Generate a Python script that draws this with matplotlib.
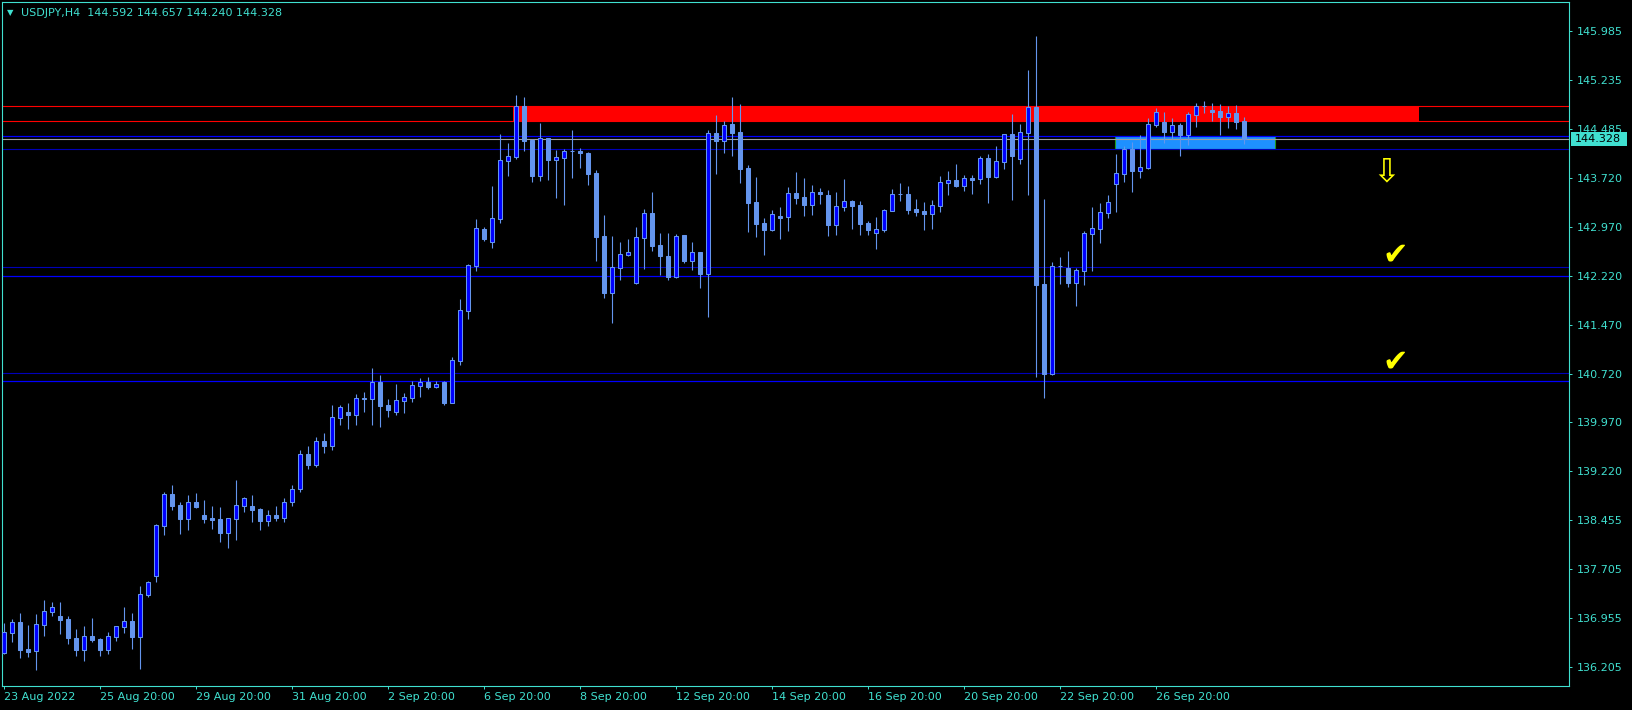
import numpy as np
import matplotlib.pyplot as plt
from matplotlib.patches import Rectangle
from matplotlib.transforms import blended_transform_factory

# USDJPY H4 bars (bar 0 = 23 Aug 2022 20:00)
opens = [136.429, 136.737, 136.897, 136.486, 136.460, 136.860, 137.059, 136.989, 136.947, 136.651,
         136.476, 136.681, 136.640, 136.476, 136.675, 136.829, 136.917, 136.675, 137.321, 137.613,
         138.381, 138.863, 138.699, 138.488, 138.740, 138.545, 138.499, 138.484, 138.273, 138.488,
         138.688, 138.679, 138.637, 138.460, 138.550, 138.500, 138.740, 138.950, 139.480, 139.320,
         139.680, 139.600, 140.040, 140.127, 140.086, 140.338, 140.332, 140.588, 140.235, 140.132,
         140.301, 140.347, 140.532, 140.588, 140.516, 140.588, 140.270, 140.916, 141.684, 142.375,
         142.939, 142.744, 143.097, 143.988, 144.050, 144.829, 144.306, 143.753, 144.332, 144.004,
         144.034, 144.137, 144.137, 144.106, 143.799, 142.831, 141.960, 142.340, 142.544, 142.109,
         142.801, 143.185, 142.693, 142.524, 142.201, 142.847, 142.447, 142.586, 142.248, 144.414,
         144.291, 144.552, 144.429, 143.876, 143.354, 143.031, 142.924, 143.139, 143.128, 143.492,
         143.430, 143.312, 143.507, 143.461, 143.000, 143.281, 143.369, 143.308, 143.031, 142.882,
         142.924, 143.220, 143.477, 143.477, 143.246, 143.215, 143.169, 143.292, 143.646, 143.692,
         143.599, 143.722, 143.707, 144.030, 143.738, 143.968, 144.398, 144.019, 144.418, 144.813,
         142.094, 140.711, 142.370, 142.340, 142.109, 142.298, 142.867, 142.943, 143.189, 143.635,
         143.788, 144.168, 143.835, 143.881, 144.537, 144.583, 144.429, 144.537, 144.383, 144.690,
         144.829, 144.767, 144.752, 144.660, 144.721, 144.592]
highs = [136.886, 136.947, 137.039, 136.855, 137.024, 137.239, 137.208, 137.208, 136.993, 136.794,
         136.840, 136.963, 136.660, 136.743, 136.840, 137.132, 137.039, 137.454, 137.531, 138.402,
         138.898, 139.006, 138.740, 138.852, 138.883, 138.775, 138.683, 138.668, 138.500, 139.083,
         138.822, 138.852, 138.657, 138.620, 138.680, 138.800, 139.000, 139.550, 139.600, 139.750,
         139.800, 140.235, 140.235, 140.266, 140.404, 140.435, 140.803, 140.696, 140.327, 140.558,
         140.419, 140.604, 140.650, 140.665, 140.604, 140.604, 140.972, 141.863, 142.401, 143.093,
         142.970, 143.599, 144.398, 144.260, 144.998, 144.967, 144.322, 144.567, 144.340, 144.153,
         144.168, 144.460, 144.183, 144.122, 143.845, 143.154, 142.831, 142.739, 142.785, 142.970,
         143.246, 143.507, 142.877, 142.877, 142.862, 142.850, 142.739, 142.590, 144.460, 144.690,
         144.598, 144.967, 144.859, 143.922, 143.738, 143.108, 143.231, 143.277, 143.584, 143.815,
         143.722, 143.615, 143.569, 143.538, 143.507, 143.707, 143.385, 143.369, 143.062, 143.123,
         143.246, 143.553, 143.646, 143.599, 143.400, 143.354, 143.385, 143.753, 143.830, 143.937,
         143.768, 143.768, 144.060, 144.091, 144.214, 144.405, 144.706, 144.552, 145.382, 145.904,
         143.400, 142.432, 142.509, 142.601, 142.340, 142.908, 143.277, 143.338, 143.461, 144.091,
         144.214, 144.275, 144.383, 144.644, 144.798, 144.736, 144.644, 144.567, 144.736, 144.875,
         144.905, 144.875, 144.859, 144.829, 144.844, 144.657]
lows = [136.410, 136.594, 136.353, 136.368, 136.164, 136.691, 136.993, 136.721, 136.568, 136.383,
        136.307, 136.599, 136.383, 136.414, 136.614, 136.732, 136.486, 136.179, 137.290, 137.520,
        138.242, 138.627, 138.258, 138.319, 138.648, 138.427, 138.335, 138.135, 138.043, 138.166,
        138.596, 138.438, 138.315, 138.380, 138.450, 138.440, 138.680, 138.900, 139.250, 139.280,
        139.500, 139.544, 139.928, 139.866, 139.928, 140.127, 139.928, 139.897, 140.051, 140.081,
        140.117, 140.281, 140.358, 140.481, 140.496, 140.235, 140.266, 140.850, 141.556, 142.294,
        142.755, 142.647, 143.031, 143.753, 144.014, 144.137, 143.661, 143.676, 143.692, 143.415,
        143.308, 143.722, 143.876, 143.615, 142.447, 141.879, 141.495, 142.155, 142.524, 142.100,
        142.324, 142.601, 142.232, 142.155, 142.190, 142.417, 142.309, 142.032, 141.587, 143.784,
        144.106, 144.060, 143.646, 142.893, 142.816, 142.539, 142.908, 142.785, 142.908, 143.323,
        143.139, 143.154, 143.323, 142.831, 142.847, 143.215, 142.939, 142.847, 142.847, 142.632,
        142.893, 143.210, 143.369, 143.169, 143.139, 142.924, 142.939, 143.200, 143.461, 143.584,
        143.523, 143.477, 143.630, 143.338, 143.725, 143.861, 143.385, 143.937, 143.461, 140.665,
        140.343, 140.700, 142.094, 142.048, 141.756, 142.079, 142.294, 142.724, 143.108, 143.200,
        143.661, 143.507, 143.722, 143.861, 144.506, 144.260, 144.322, 144.060, 144.229, 144.506,
        144.721, 144.598, 144.383, 144.491, 144.475, 144.240]
closes = [136.743, 136.897, 136.476, 136.445, 136.866, 137.070, 137.132, 136.937, 136.660, 136.476,
          136.681, 136.629, 136.476, 136.681, 136.835, 136.917, 136.671, 137.331, 137.511, 138.391,
          138.863, 138.688, 138.488, 138.740, 138.668, 138.488, 138.473, 138.273, 138.494, 138.694,
          138.802, 138.627, 138.458, 138.550, 138.500, 138.740, 138.950, 139.480, 139.320, 139.680,
          139.600, 140.046, 140.200, 140.086, 140.338, 140.332, 140.588, 140.220, 140.163, 140.307,
          140.358, 140.542, 140.588, 140.512, 140.558, 140.266, 140.922, 141.694, 142.386, 142.954,
          142.785, 143.108, 143.999, 144.060, 144.829, 144.291, 143.753, 144.332, 143.999, 144.040,
          144.137, 144.140, 144.106, 143.784, 142.816, 141.956, 142.355, 142.555, 142.586, 142.816,
          143.185, 142.678, 142.524, 142.201, 142.831, 142.447, 142.586, 142.248, 144.414, 144.291,
          144.537, 144.414, 143.861, 143.338, 143.016, 142.924, 143.169, 143.112, 143.492, 143.420,
          143.312, 143.507, 143.481, 143.000, 143.292, 143.369, 143.292, 143.016, 142.924, 142.939,
          143.231, 143.477, 143.470, 143.231, 143.200, 143.169, 143.308, 143.661, 143.692, 143.599,
          143.722, 143.692, 144.030, 143.738, 143.984, 144.398, 144.060, 144.429, 144.813, 142.079,
          140.711, 142.370, 142.366, 142.109, 142.309, 142.877, 142.954, 143.200, 143.354, 143.799,
          144.168, 143.830, 143.891, 144.552, 144.736, 144.429, 144.537, 144.383, 144.706, 144.829,
          144.824, 144.736, 144.660, 144.721, 144.583, 144.328]

ytick_labels = ['136.205', '136.955', '137.705', '138.455', '139.220', '139.970', '140.720',
                '141.470', '142.220', '142.970', '143.720', '144.485', '145.235', '145.985']
xtick_bars = [0, 12, 24, 36, 48, 60, 72, 84, 96, 108, 120, 132, 144]
xtick_labels = ['23 Aug 2022', '25 Aug 20:00', '29 Aug 20:00', '31 Aug 20:00', '2 Sep 20:00',
                '6 Sep 20:00', '8 Sep 20:00', '12 Sep 20:00', '14 Sep 20:00', '16 Sep 20:00',
                '20 Sep 20:00', '22 Sep 20:00', '26 Sep 20:00']

# levels drawn on the chart
red_lines = [144.824, 144.593]
red_zone = [144.595, 144.822]
red_zone_bars = [63.6, 176.9]
blue_lines = [144.363, 142.212, 140.599]
dark_blue_lines = [144.163, 142.350, 140.722]
blue_box = [144.163, 144.363]
blue_box_bars = [138.9, 158.9]
bid = 144.328
arrow_level = 143.81
check_levels = [142.54, 140.90]

fg = '#40e0d0'
bull_col = '#0000ff'
bear_col = '#6495ed'

fig = plt.figure(figsize=(16.33, 7.10), dpi=100)
fig.patch.set_facecolor('black')
ax = fig.add_axes([2.3 / 1633, 1 - 686 / 710, 1567.1 / 1633, 683.7 / 710])
ax.set_facecolor('black')

n = len(opens)
idx = np.arange(n)
o = np.array(opens)
c = np.array(closes)

# background objects
ax.add_patch(Rectangle((red_zone_bars[0], red_zone[0]), red_zone_bars[1] - red_zone_bars[0],
                       red_zone[1] - red_zone[0], facecolor='#ff0000', edgecolor='none', zorder=1))
ax.add_patch(Rectangle((blue_box_bars[0], blue_box[0]), blue_box_bars[1] - blue_box_bars[0],
                       blue_box[1] - blue_box[0], facecolor='#1e90ff', edgecolor='#1f9a1f',
                       linewidth=0.8, zorder=1))
for y in red_lines:
    ax.axhline(y, color='#ff0000', lw=0.8, zorder=1.5)
for y in blue_lines:
    ax.axhline(y, color='#0000ff', lw=0.9, zorder=1.5)
for y in dark_blue_lines:
    ax.axhline(y, color='#0000b8', lw=0.8, zorder=1.5)
ax.axhline(bid, color='#a0a0a0', lw=0.8, zorder=1.6)

# candles
ax.vlines(idx, lows, highs, color=bear_col, lw=0.8, zorder=3)
bull = c >= o
bottoms = np.minimum(o, c)
heights = np.maximum(np.abs(c - o), 0.004)
ax.bar(idx, heights, width=0.58, bottom=bottoms,
       color=np.where(bull, bull_col, bear_col), edgecolor=bear_col, linewidth=0.75, zorder=4)

# yellow marks on the right
ax.text(172.8, arrow_level, '\u21e9', color='#ffff00', fontsize=24, ha='center', va='center', zorder=5)
for y in check_levels:
    ax.text(173.9, y, '\u2714', color='#ffff00', fontsize=22, ha='center', va='center', zorder=5)

ax.set_xlim(-0.21, 195.7)
ax.set_ylim(135.918, 146.422)

ax.yaxis.tick_right()
ax.set_yticks(np.linspace(136.205, 145.985, 14))
ax.set_yticklabels(ytick_labels)
ax.set_xticks(xtick_bars)
ax.set_xticklabels(xtick_labels)
for lbl in ax.get_xticklabels():
    lbl.set_ha('left')
ax.tick_params(axis='both', colors=fg, labelsize=8, length=2.5, width=0.7)
ax.tick_params(axis='y', pad=3)
ax.tick_params(axis='x', pad=2)
for sp in ax.spines.values():
    sp.set_color(fg)
    sp.set_linewidth(0.8)

# current price label
tr = blended_transform_factory(ax.transAxes, ax.transData)
ax.add_patch(Rectangle((1.001, bid - 0.108), 0.0357, 0.216, transform=tr,
                       facecolor=fg, edgecolor='none', clip_on=False, zorder=6))
ax.text(1.0035, bid, '144.328', transform=tr, color='black', fontsize=8,
        ha='left', va='center', clip_on=False, zorder=7)

# header
fig.text(10.5 / 1633, 1 - 12.7 / 710, '\u25bc', color=fg, fontsize=6, ha='center', va='center')
fig.text(21 / 1633, 1 - 12.7 / 710, 'USDJPY,H4  144.592 144.657 144.240 144.328',
         color=fg, fontsize=8, ha='left', va='center')

fig.savefig('out.png', dpi=100, facecolor='black')
